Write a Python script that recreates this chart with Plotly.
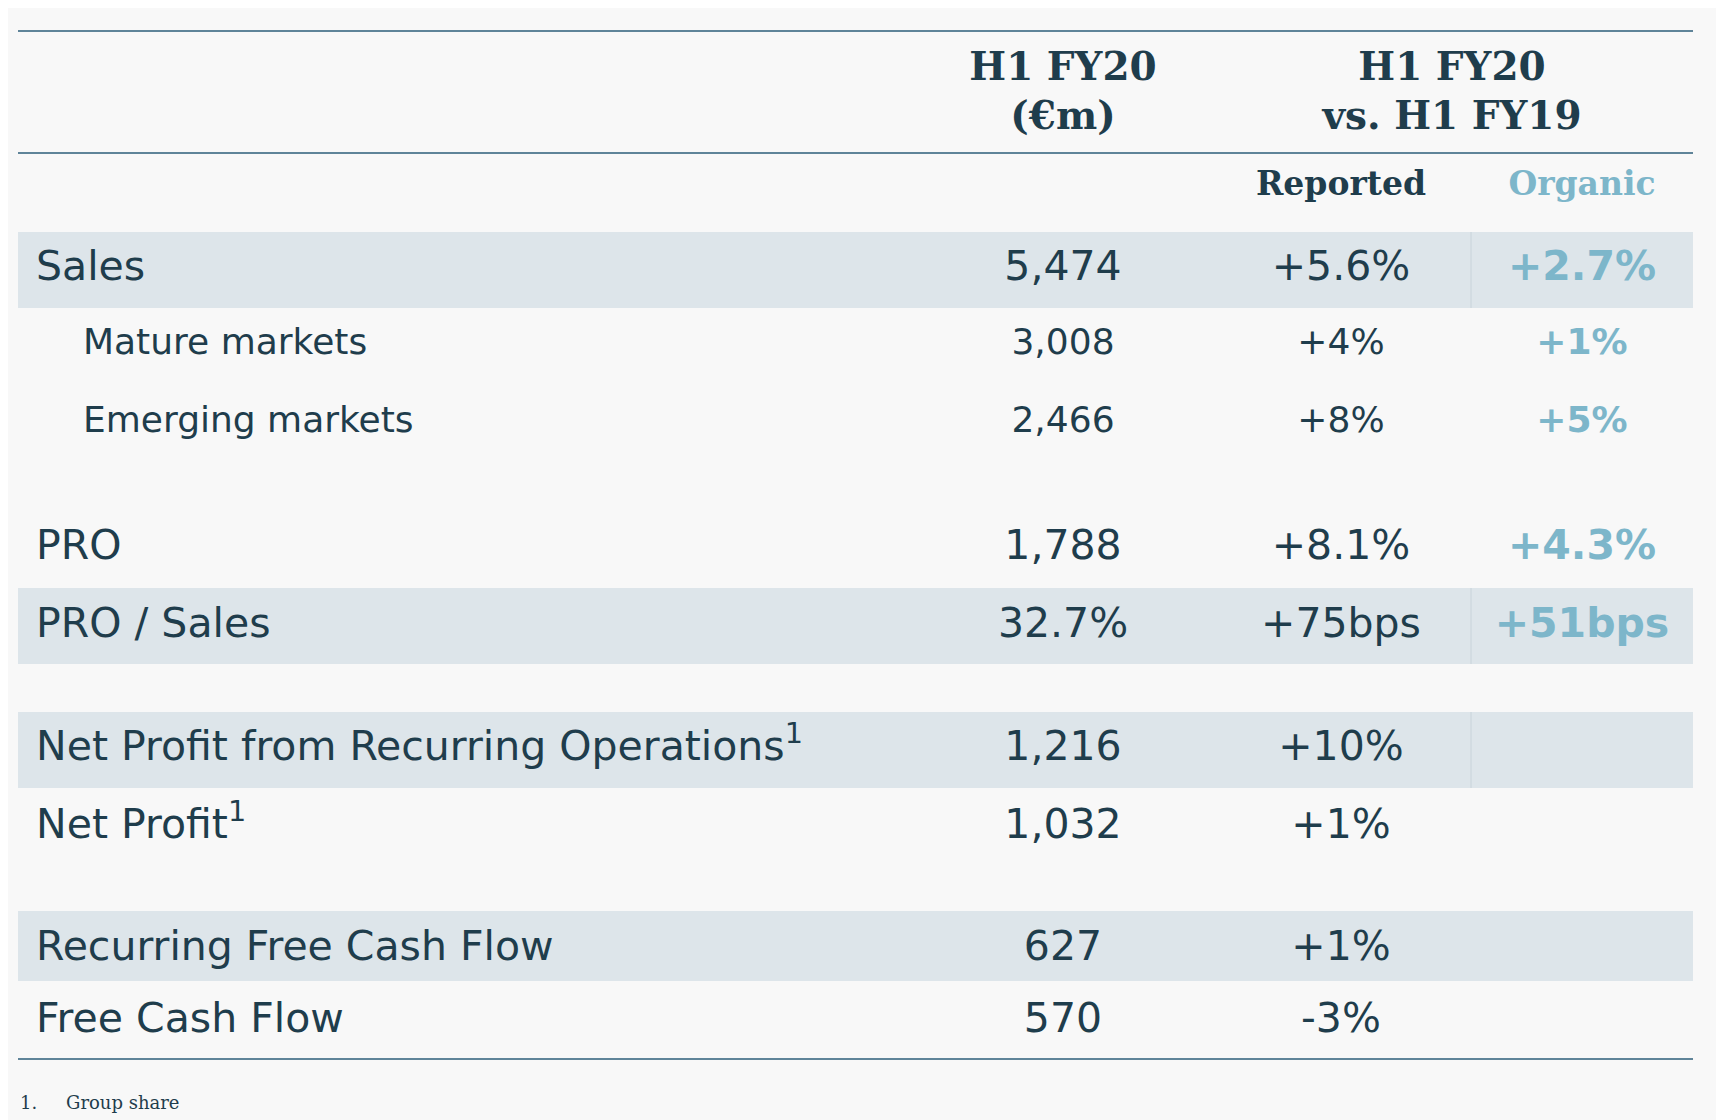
import plotly.graph_objects as go

# table content
labels = ["Sales", "Mature markets", "Emerging markets", "PRO", "PRO / Sales",
          "Net Profit from Recurring Operations<sup>1</sup>", "Net Profit<sup>1</sup>",
          "Recurring Free Cash Flow", "Free Cash Flow"]
values = ["5,474", "3,008", "2,466", "1,788", "32.7%", "1,216", "1,032", "627", "570"]
reported = ["+5.6%", "+4%", "+8%", "+8.1%", "+75bps", "+10%", "+1%", "+1%", "-3%"]
organic = ["+2.7%", "+1%", "+5%", "+4.3%", "+51bps", "", "", "", ""]
indent = [False, True, True, False, False, False, False, False, False]

# layout of rows (pixel space)
row_y = [270, 345, 423, 549, 627, 750, 828, 950, 1022]
bands = [(232, 308, True), (588, 664, True), (712, 788, True), (911, 981, False)]

DARK = "#1f3d4c"
LIGHT = "#7db6ca"
LINE = "#5f8499"
BAND = "#dde5ea"
BODY = "DejaVu Sans"
HEAD = "DejaVu Serif"
OFF = 8  # page margin compensation

x_lab, x_ind, x_val, x_rep, x_org = 36, 83, 1063, 1341, 1582
sizes = [41 if not i else 36 for i in indent]

fig = go.Figure()
shapes = []
for y0, y1, div in bands:
    shapes.append(dict(type="rect", x0=18, x1=1693, y0=y0, y1=y1, fillcolor=BAND,
                       line_width=0, layer="below"))
    if div:
        shapes.append(dict(type="line", x0=1471, x1=1471, y0=y0, y1=y1,
                           line=dict(color="#c8d3da", width=1)))
for y in [31, 153, 1059]:
    shapes.append(dict(type="line", x0=18, x1=1693, y0=y, y1=y, line=dict(color=LINE, width=2)))

fig.add_trace(go.Scatter(
    x=[x_ind if ind else x_lab for ind in indent], y=row_y, text=labels, mode="text",
    textposition="middle right", textfont=dict(family=BODY, size=sizes, color=DARK)))
fig.add_trace(go.Scatter(
    x=[x_val] * len(values), y=row_y, text=values, mode="text", textposition="middle center",
    textfont=dict(family=BODY, size=sizes, color=DARK)))
fig.add_trace(go.Scatter(
    x=[x_rep] * len(reported), y=row_y, text=reported, mode="text", textposition="middle center",
    textfont=dict(family=BODY, size=sizes, color=DARK)))
fig.add_trace(go.Scatter(
    x=[x_org] * len(organic), y=row_y, text=["<b>%s</b>" % o if o else " " for o in organic],
    mode="text", textposition="middle center",
    textfont=dict(family=BODY, size=sizes, color=LIGHT)))

headers = [(x_val, 70, "H1 FY20", DARK), (x_val, 119, "(€m)", DARK),
           (1452, 70, "H1 FY20", DARK), (1452, 119, "vs. H1 FY19", DARK),
           (x_rep, 187, "Reported", DARK), (x_org, 187, "Organic", LIGHT)]
fig.add_trace(go.Scatter(
    x=[h[0] for h in headers], y=[h[1] for h in headers],
    text=["<b>%s</b>" % h[2] for h in headers], mode="text", textposition="middle center",
    textfont=dict(family=HEAD, size=[39, 39, 39, 39, 33, 33], color=[h[3] for h in headers])))

fig.add_trace(go.Scatter(x=[20, 66], y=[1104, 1104], text=["1.", "Group share"], mode="text",
                         textposition="middle right",
                         textfont=dict(family="DejaVu Serif", size=18, color=DARK)))

fig.update_layout(
    width=1724, height=1120, margin=dict(l=0, r=0, t=0, b=0),
    plot_bgcolor="#f8f8f8", paper_bgcolor="#f8f8f8", showlegend=False, shapes=shapes,
    xaxis=dict(range=[OFF, 1724 + OFF], visible=False, fixedrange=True),
    yaxis=dict(range=[1120 + OFF, OFF], visible=False, fixedrange=True),
)
fig.write_html("out.html")
